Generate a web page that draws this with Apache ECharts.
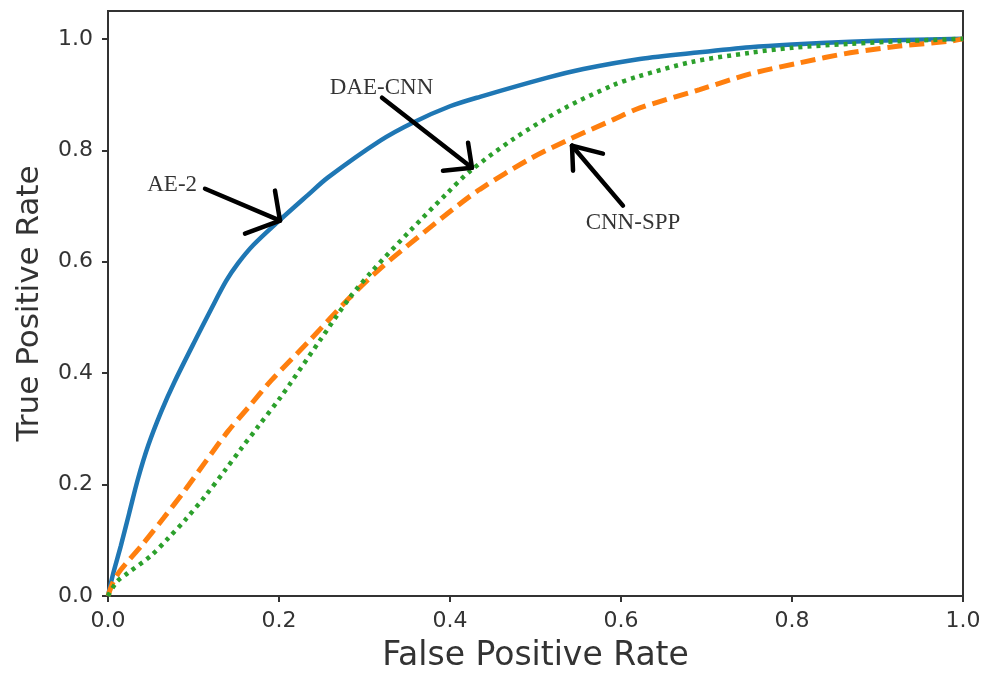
<!DOCTYPE html>
<html>
<head>
<meta charset="utf-8">
<script src="https://cdn.jsdelivr.net/npm/echarts@6/dist/echarts.min.js"></script>
<style>
    html, body {margin: 0; padding: 0; background: #fff;}
    #roc {width: 986px; height: 673px;}
</style>
</head>
<body>
<div id="roc"></div>
<script>
// DATA POINTS (fpr, tpr)
const ae2_fpr = [0, 0.006, 0.015, 0.025, 0.035, 0.047, 0.062, 0.078, 0.105, 0.12, 0.138, 0.152, 0.17, 0.199, 0.234, 0.257, 0.318, 0.357, 0.4, 0.435, 0.513, 0.556, 0.622, 0.692, 0.751, 0.8, 0.868, 0.93, 1];
const ae2_tpr = [0, 0.04, 0.09, 0.15, 0.21, 0.27, 0.33, 0.385, 0.468, 0.513, 0.565, 0.597, 0.63, 0.672, 0.72, 0.751, 0.817, 0.85, 0.879, 0.896, 0.93, 0.946, 0.964, 0.976, 0.985, 0.99, 0.995, 0.998, 1];

const spp_fpr = [0, 0.006, 0.015, 0.04, 0.065, 0.09, 0.115, 0.14, 0.165, 0.191, 0.236, 0.283, 0.32, 0.361, 0.4, 0.435, 0.494, 0.54, 0.591, 0.622, 0.692, 0.751, 0.809, 0.868, 0.926, 0.985, 1];
const spp_tpr = [0, 0.025, 0.047, 0.092, 0.14, 0.19, 0.243, 0.295, 0.34, 0.387, 0.459, 0.536, 0.59, 0.642, 0.69, 0.73, 0.785, 0.82, 0.855, 0.876, 0.909, 0.937, 0.957, 0.975, 0.987, 0.996, 1];

const dae_fpr = [0, 0.01, 0.023, 0.05, 0.07, 0.09, 0.113, 0.137, 0.156, 0.175, 0.202, 0.213, 0.248, 0.283, 0.31, 0.353, 0.396, 0.423, 0.474, 0.532, 0.591, 0.619, 0.684, 0.751, 0.8, 0.868, 0.93, 1];
const dae_tpr = [0, 0.025, 0.041, 0.072, 0.103, 0.136, 0.178, 0.226, 0.265, 0.303, 0.357, 0.381, 0.459, 0.536, 0.585, 0.655, 0.722, 0.762, 0.82, 0.874, 0.917, 0.932, 0.959, 0.975, 0.984, 0.991, 0.996, 1];

const tick_values = [0, 0.2, 0.4, 0.6, 0.8, 1.0];
const model_names = ["AE-2", "CNN-SPP", "DAE-CNN"];

// ANNOTATIONS (in data space) - hand drawn arrows: shaft + two head strokes
const arrows = [
    {from: [0.1135, 0.731], tip: [0.2012, 0.6738], arms: [[0.1953, 0.7276], [0.1602, 0.6505]]},
    {from: [0.6023, 0.7007], tip: [0.5427, 0.8082], arms: [[0.5439, 0.7634], [0.5789, 0.7939]]},
    {from: [0.3205, 0.8943], tip: [0.4257, 0.7688], arms: [[0.4211, 0.8136], [0.3918, 0.7634]]}
];
const label_spots = [[0.075, 0.737], [0.614, 0.670], [0.32, 0.912]];


const zip = (xs, ys) => xs.map((x, i) => [x, ys[i]]);

function arrowSegments(){
    const segs = [];
    arrows.forEach(a => {
        segs.push([{coord: a.from}, {coord: a.tip}]);
        a.arms.forEach(arm => segs.push([{coord: a.tip}, {coord: arm}]));
    });
    return segs;
}

function rocOption(){
    const axis_text = {color: '#333', fontFamily: 'DejaVu Sans', fontSize: 22};
    const axis_line = {show: true, lineStyle: {color: '#333', width: 2}};
    const fmt = (v) => v.toFixed(1);

    return {
        animation: false,
        grid: {
            left: 108, right: 23, top: 11, bottom: 77, outerBoundsMode: 'none',
            show: true, borderColor: '#333', borderWidth: 2
        },
        xAxis: {
            type: 'value', min: 0, max: 1, interval: 0.2,
            name: 'False Positive Rate', nameLocation: 'middle', nameGap: 44,
            nameTextStyle: {color: '#333', fontFamily: 'DejaVu Sans', fontSize: 33},
            axisLine: axis_line,
            axisTick: {show: true, length: 6, lineStyle: {color: '#333', width: 2}},
            axisLabel: Object.assign({margin: 14, formatter: fmt}, axis_text),
            splitLine: {show: false}
        },
        yAxis: {
            type: 'value', min: 0, max: 1.05,
            name: 'True Positive Rate', nameLocation: 'middle', nameGap: 63,
            nameTextStyle: {color: '#333', fontFamily: 'DejaVu Sans', fontSize: 31},
            axisLine: axis_line,
            axisTick: {show: true, length: 6, customValues: tick_values, lineStyle: {color: '#333', width: 2}},
            axisLabel: Object.assign({margin: 15, formatter: fmt, customValues: tick_values}, axis_text),
            splitLine: {show: false}
        },
        series: [
            {
                type: 'line', name: model_names[0], data: zip(ae2_fpr, ae2_tpr),
                showSymbol: false, smooth: 0.3,
                lineStyle: {color: '#1f77b4', width: 4.5}
            },
            {
                type: 'line', name: model_names[1], data: zip(spp_fpr, spp_tpr),
                showSymbol: false, smooth: 0.3,
                lineStyle: {color: '#ff7f0e', width: 5, type: [15, 7]}
            },
            {
                type: 'line', name: model_names[2], data: zip(dae_fpr, dae_tpr),
                showSymbol: false, smooth: 0.3,
                lineStyle: {color: '#2ca02c', width: 4.5, type: [4, 5]}
            },
            {
                // annotation layer
                type: 'scatter', name: 'notes', symbolSize: 1, silent: true,
                itemStyle: {color: 'rgba(0,0,0,0)'},
                data: label_spots.map((p, i) => ({value: p, name: model_names[i]})),
                label: {
                    show: true, position: 'inside', formatter: '{b}',
                    fontFamily: 'Liberation Serif', fontSize: 23, color: '#000'
                },
                markLine: {
                    silent: true, symbol: 'none', animation: false,
                    label: {show: false},
                    lineStyle: {color: '#000', width: 4.5, type: 'solid', cap: 'round'},
                    data: arrowSegments()
                }
            }
        ]
    };
}


function createEChart(element){
    const chart = echarts.init(element, null, {renderer: 'canvas'});
    new ResizeObserver(() => chart.resize()).observe(element);
    return chart;
}

const roc_chart = createEChart(document.getElementById('roc'));
roc_chart.setOption(rocOption());
</script>
</body>
</html>
